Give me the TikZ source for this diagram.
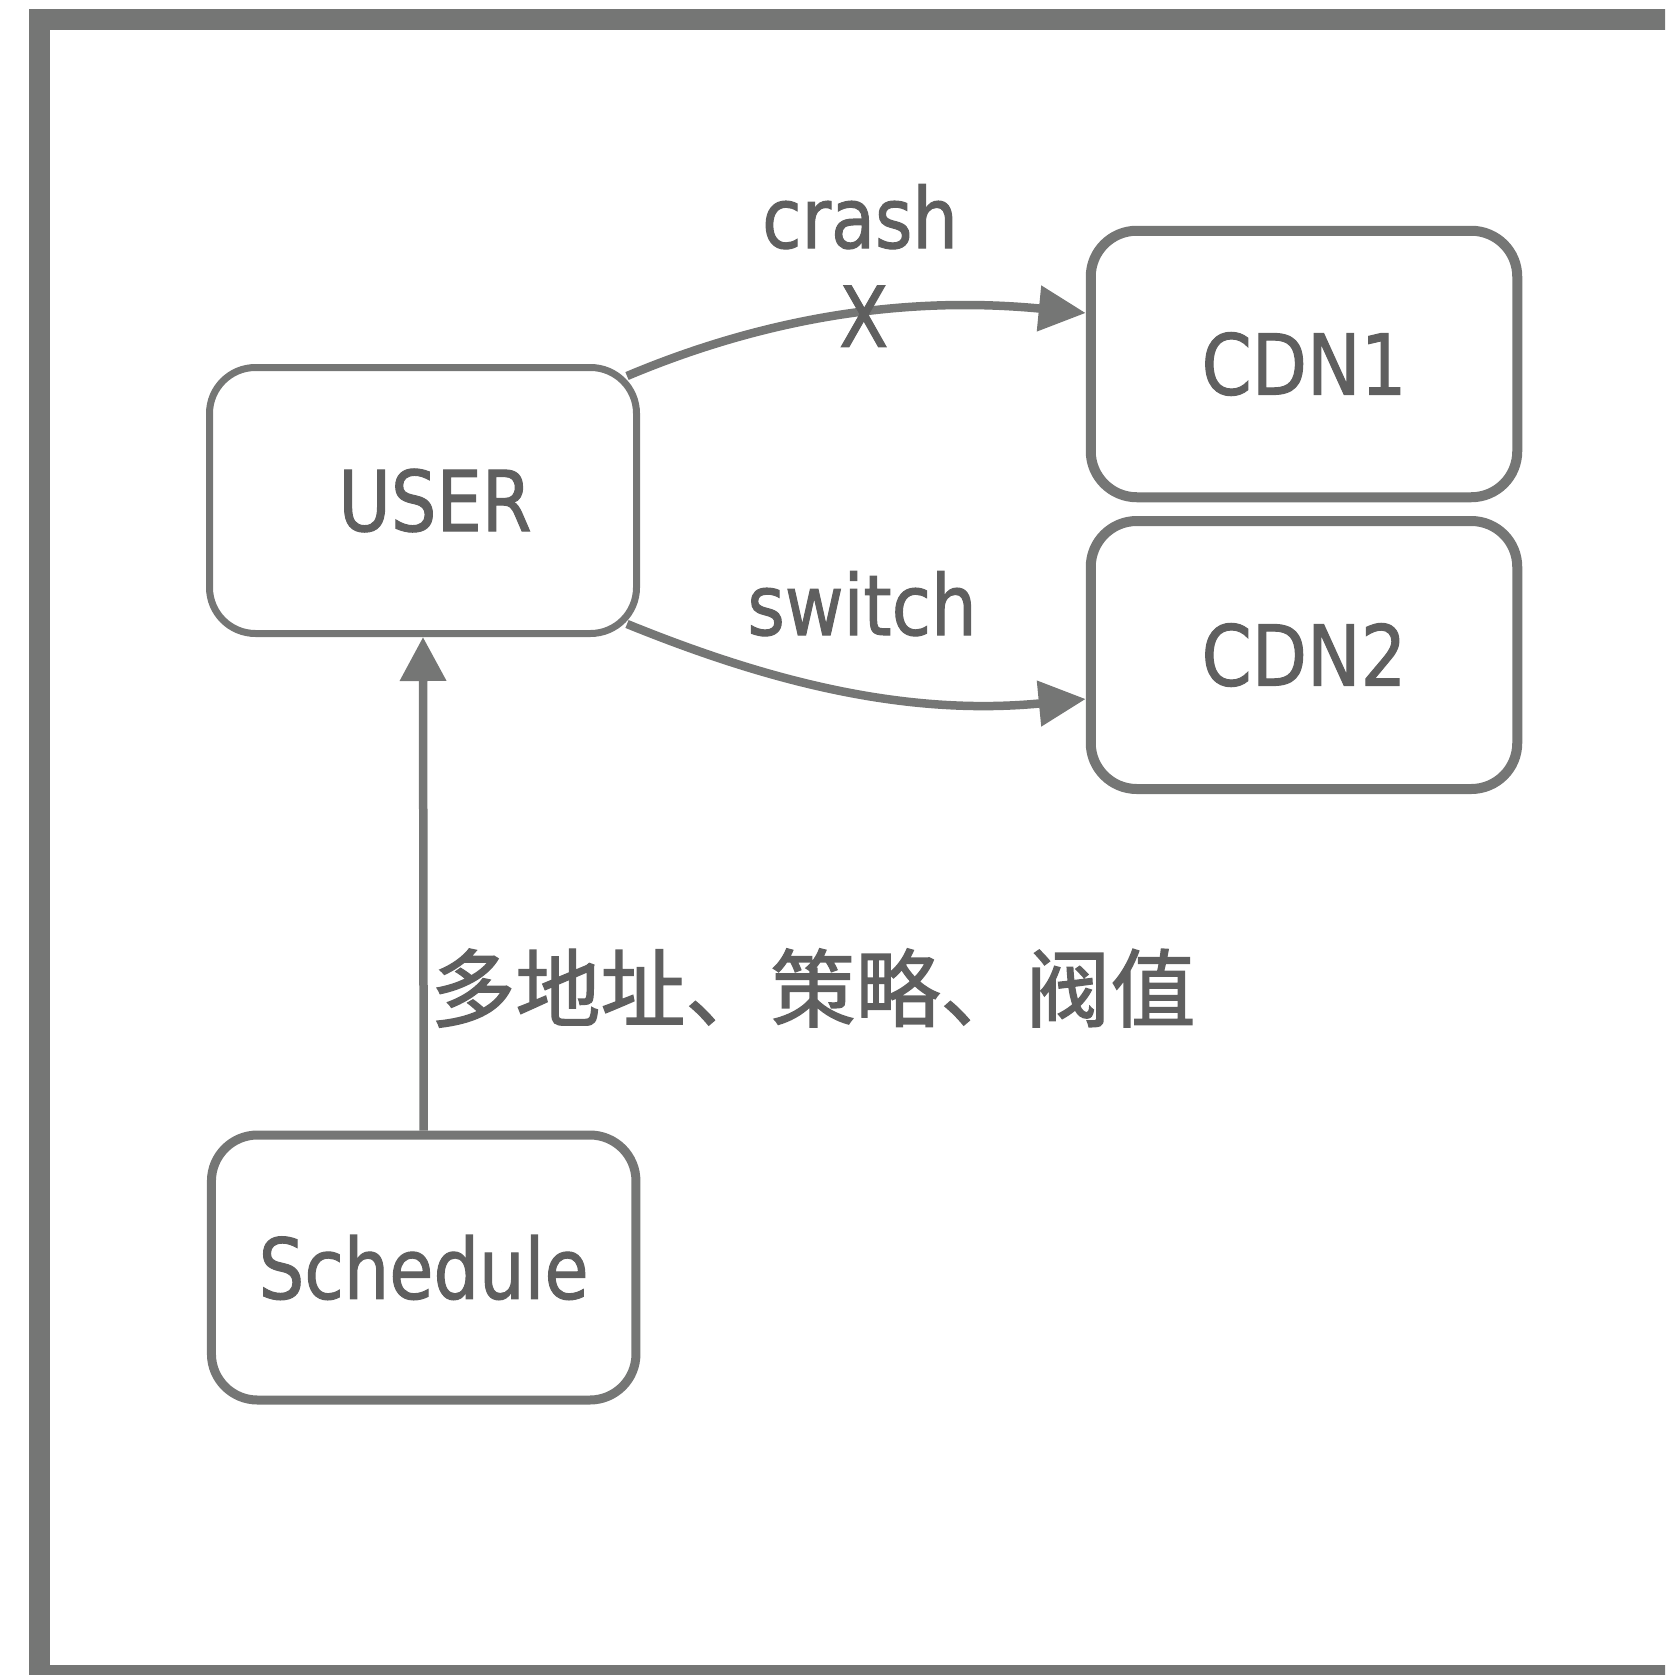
\documentclass[tikz,border=0pt]{standalone}
\usepackage{fontspec}
\setmainfont{DejaVu Sans Condensed}[FakeStretch=0.95,FakeBold=1.2]
\newfontfamily\cjk{Noto Sans CJK SC}[FakeBold=1.6]
\usetikzlibrary{arrows.meta}
\definecolor{linegray}{RGB}{117,118,117}
\definecolor{textgray}{RGB}{95,95,95}
\newcommand{\bigfont}{\fontsize{84}{100}\selectfont}
\begin{document}
\begin{tikzpicture}[x=1pt,y=-1pt,
  box/.style={draw=linegray, line width=9pt, rounded corners=46pt, inner sep=0pt,
              text=textgray, font=\bigfont},
  conn/.style={draw=linegray, line width=8.5pt, -{Triangle[length=47pt,width=44pt]}},
  lbl/.style={text=textgray, font=\bigfont, inner sep=0pt}]
\useasboundingbox (0,0) rectangle (1665,1675);
\clip (0,0) rectangle (1665,1675);
\draw[linegray, line width=21pt] (39.5,19.5) rectangle (1720,1675.5);

\node[box, line width=7pt, minimum width=427pt, minimum height=266pt] (user) at (423,500.5) {\hspace{24pt}USER};
\node[box, line width=10pt, minimum width=426.5pt, minimum height=266.5pt] (cdn1) at (1304,364) {CDN1\hspace{12pt}};
\node[box, line width=10pt, minimum width=426.5pt, minimum height=268pt] (cdn2) at (1304,655) {CDN2};
\node[box, line width=9pt, minimum width=424.5pt, minimum height=265pt] (sched) at (423.7,1267.5) {Schedule};

\draw[conn] ([shift={(-13,12)}]user.north east) .. controls +(133,-56) and +(-186,-18) .. ([shift={(0,-51)}]cdn1.west)
  node[lbl, pos=0.56, yshift=-3pt] (x) {X};
\draw[conn] ([shift={(-13,-13)}]user.south east) .. controls +(133,54) and +(-186,18) .. ([shift={(0,44)}]cdn2.west);
\draw[conn, -{Triangle[length=44pt,width=44.6pt]}] (sched.north) -- (user.south);

\node[lbl, anchor=base] (crash) at (860,248) {crash};
\node[lbl, anchor=base] (switch) at (862,635) {switch};
\node[lbl, font={\cjk\fontsize{85}{100}\selectfont}] (policy) at (813,988) {多地址、策略、阀值};
\end{tikzpicture}
\end{document}
